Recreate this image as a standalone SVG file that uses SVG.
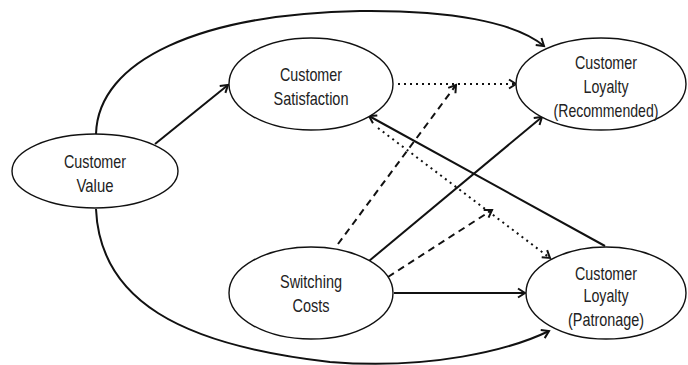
<svg xmlns="http://www.w3.org/2000/svg" width="688" height="365" viewBox="0 0 688 365">
  <defs>
    <marker id="arrow" markerUnits="userSpaceOnUse" markerWidth="12" markerHeight="12" refX="8" refY="5" orient="auto" overflow="visible">
      <path d="M1,0.5 L8,5 L1,9.5" fill="none" stroke="#111" stroke-width="2" stroke-linejoin="miter"/>
    </marker>
    <style>
      .node ellipse { fill: #fff; stroke: #111; stroke-width: 1.4; }
      .node text { font-family: "Liberation Sans", Arial, sans-serif; font-size: 18.5px; fill: #222; text-anchor: middle; }
      .edge { fill: none; stroke: #111; stroke-width: 2; marker-end: url(#arrow); }
      .dotted { stroke-dasharray: 2 4; }
      .dashed { stroke-dasharray: 7 5; }
    </style>
  </defs>

  <rect width="688" height="365" fill="#fff"/>

  <!-- connectors -->
  <g id="connectors">
    <path class="edge" d="M96,134 C98,60 200,14 360,11 C450,10 515,22 544,46"/>
    <path class="edge" d="M96,209 C100,300 180,345 330,362 C430,370 510,350 549,331"/>
    <path class="edge" d="M155,144 L228,85"/>
    <path class="edge dotted" d="M398,84 L516,84"/>
    <path class="edge dashed" d="M338,244 L456,85"/>
    <path class="edge" d="M369,261 L542,117"/>
    <path class="edge" d="M605,246 L369,116"/>
    <path class="edge dotted" d="M378,128 L550,258"/>
    <path class="edge dashed" d="M388,277 L492,210"/>
    <path class="edge" d="M394,293 L525,293"/>
  </g>

  <!-- labels use a condensed Arial-width face via textLength -->
  <g id="customer-value" class="node">
    <ellipse cx="95" cy="171" rx="83" ry="37"/>
    <text x="95" y="168" textLength="62" lengthAdjust="spacingAndGlyphs">Customer</text>
    <text x="95" y="192" textLength="37" lengthAdjust="spacingAndGlyphs">Value</text>
  </g>

  <g id="customer-satisfaction" class="node">
    <ellipse cx="311" cy="84" rx="82" ry="46"/>
    <text x="311" y="81" textLength="62" lengthAdjust="spacingAndGlyphs">Customer</text>
    <text x="311" y="105" textLength="75" lengthAdjust="spacingAndGlyphs">Satisfaction</text>
  </g>

  <g id="loyalty-recommended" class="node">
    <ellipse cx="601" cy="84" rx="85" ry="46"/>
    <text x="606" y="69" textLength="62" lengthAdjust="spacingAndGlyphs">Customer</text>
    <text x="606" y="93" textLength="45" lengthAdjust="spacingAndGlyphs">Loyalty</text>
    <text x="606" y="117" textLength="105" lengthAdjust="spacingAndGlyphs">(Recommended)</text>
  </g>

  <g id="switching-costs" class="node">
    <ellipse cx="311" cy="293" rx="82" ry="46"/>
    <text x="311" y="288" textLength="62" lengthAdjust="spacingAndGlyphs">Switching</text>
    <text x="311" y="312" textLength="37" lengthAdjust="spacingAndGlyphs">Costs</text>
  </g>

  <g id="loyalty-patronage" class="node">
    <ellipse cx="606" cy="293" rx="80" ry="46"/>
    <text x="606" y="280" textLength="62" lengthAdjust="spacingAndGlyphs">Customer</text>
    <text x="606" y="302" textLength="45" lengthAdjust="spacingAndGlyphs">Loyalty</text>
    <text x="606" y="326" textLength="76" lengthAdjust="spacingAndGlyphs">(Patronage)</text>
  </g>
</svg>
